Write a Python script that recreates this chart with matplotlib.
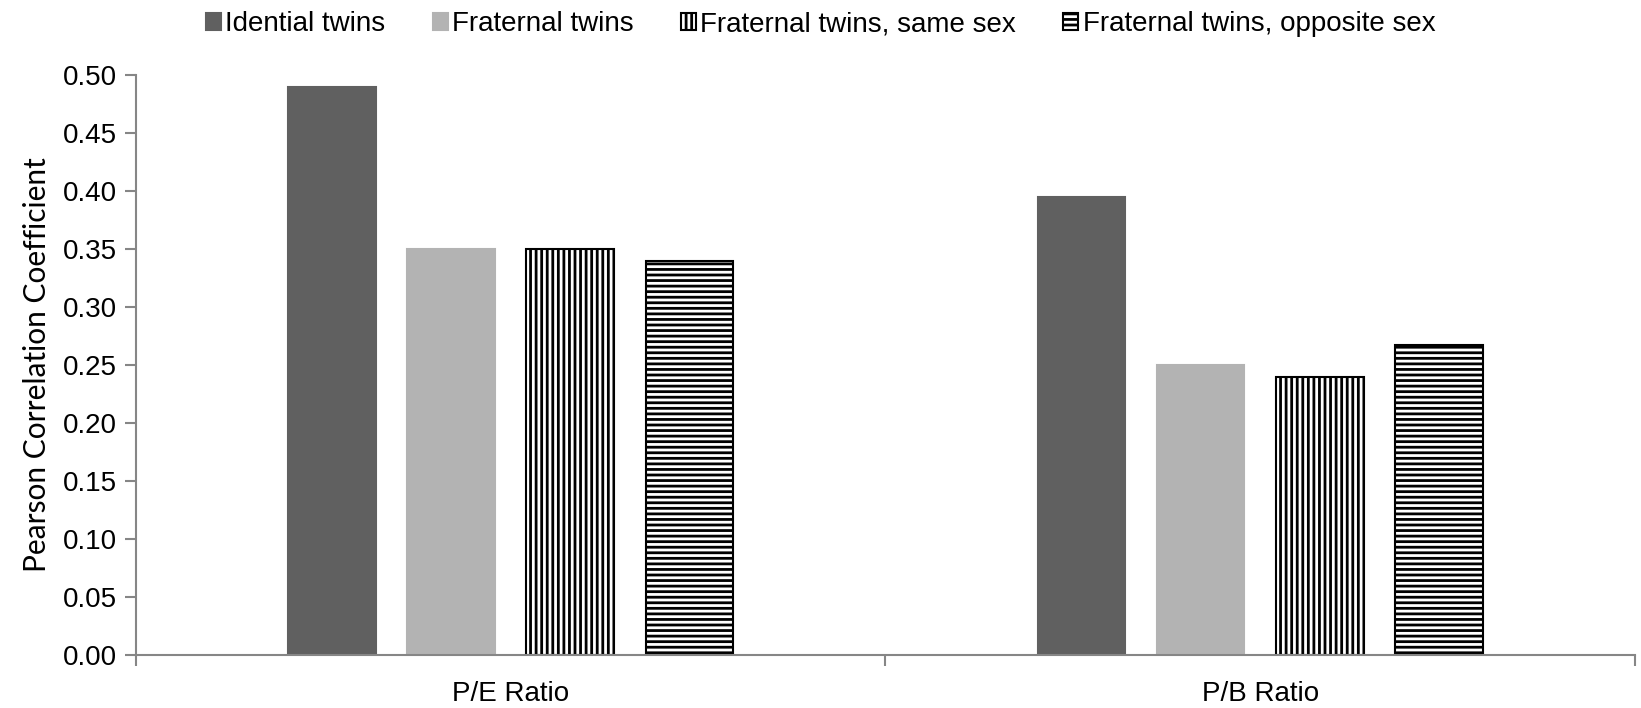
import matplotlib
matplotlib.use("Agg")
import matplotlib.pyplot as plt
import numpy as np

plt.rcParams['font.family'] = ['Liberation Sans', 'DejaVu Sans']
plt.rcParams['hatch.linewidth'] = 2.0
plt.rcParams['hatch.color'] = 'black'

categories = ["P/E Ratio", "P/B Ratio"]
series_names = ["Idential twins", "Fraternal twins",
                "Fraternal twins, same sex", "Fraternal twins, opposite sex"]
identical = [0.49, 0.395]
fraternal = [0.35, 0.25]
fraternal_same = [0.35, 0.24]
fraternal_opposite = [0.34, 0.267]
yticks = [0.00, 0.05, 0.10, 0.15, 0.20, 0.25, 0.30, 0.35, 0.40, 0.45, 0.50]

series = [identical, fraternal, fraternal_same, fraternal_opposite]
styles = [
    dict(color="#606060", edgecolor="#606060", hatch=None),
    dict(color="#b3b3b3", edgecolor="#b3b3b3", hatch=None),
    dict(color="white", edgecolor="black", hatch="|||"),
    dict(color="white", edgecolor="black", hatch="---"),
]

fig = plt.figure(figsize=(16.41, 7.08), dpi=100)
ax = fig.add_axes([0.0829, 0.0749, 0.9134, 0.8191])

x = np.arange(len(categories))
width = 0.117
step = 0.159
offsets = (np.arange(len(series)) - 1.5) * step

for vals, st, name, off in zip(series, styles, series_names, offsets):
    ax.bar(x + off, vals, width, color=st["color"], edgecolor=st["edgecolor"],
           hatch=st["hatch"], linewidth=1.5, label=name)

ax.set_xlim(-0.5, 1.5)
ax.set_ylim(0, 0.5)
ax.set_yticks(yticks)
ax.set_yticklabels([f"{v:.2f}" for v in yticks])
ax.set_xticks(x)
ax.set_xticklabels(categories)
ax.set_xticks([-0.5, 0.5, 1.5], minor=True)

spine_color = "#868686"
for s in ["top", "right"]:
    ax.spines[s].set_visible(False)
for s in ["left", "bottom"]:
    ax.spines[s].set_color(spine_color)
    ax.spines[s].set_linewidth(1.5)

ax.tick_params(axis="y", direction="out", length=8, width=1.5, color=spine_color,
               labelsize=20, pad=6)
ax.tick_params(axis="x", which="major", length=0, labelsize=20, pad=19)
ax.tick_params(axis="x", which="minor", direction="out", length=8, width=1.5,
               color=spine_color)

ax.set_ylabel("Pearson Correlation Coefficient", fontsize=21.5, labelpad=8,
              family=["Lato", "DejaVu Sans"])

handles, labels = ax.get_legend_handles_labels()
fig.legend(handles, labels, loc="upper center", bbox_to_anchor=(0.5, 0.99), ncol=4,
           frameon=False, fontsize=20, handlelength=0.55, handleheight=0.55,
           handletextpad=0.15, columnspacing=1.7, borderaxespad=0.1,
           borderpad=0.05)

fig.savefig("out.png", dpi=100)
